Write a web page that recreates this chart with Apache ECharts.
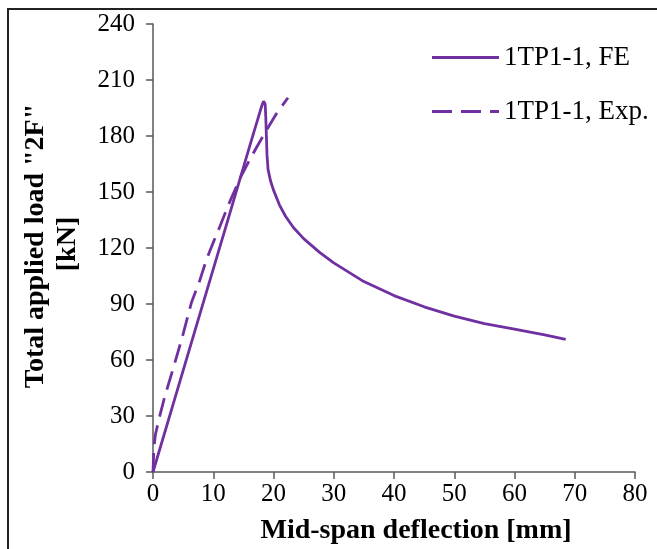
<!DOCTYPE html>
<html>
<head>
<meta charset="utf-8">
<script src="https://cdn.jsdelivr.net/npm/echarts@6/dist/echarts.min.js"></script>
<style>html,body{margin:0;padding:0;background:#fff;}#c{width:657px;height:549px;}</style>
</head>
<body>
<div id="c"></div>
<script>
// FE curve: [deflection mm, load kN]
const feX = [0, 4, 8, 12, 16, 17.8, 18.15, 18.35, 18.5, 18.62, 18.72, 18.82, 18.92, 19.1, 19.5, 20, 21, 22, 23.3, 25, 27.7, 30, 35, 40, 45, 50, 55, 60, 65, 68.5];
const feY = [0, 43.5, 87, 130.4, 174, 193.5, 197, 198.6, 198.8, 197, 190, 180, 170, 162, 156, 151, 143, 137, 131, 125, 117.5, 112, 102, 94.5, 88.5, 83.5, 79.5, 76.5, 73.5, 71];
// Experimental curve
const expX = [0, 0.15, 0.4, 1, 2, 3.4, 4.8, 6.4, 7.7, 8.9, 10, 11.1, 12.5, 14.4, 16, 17.2, 18.9, 20.5, 22.4];
const expY = [0, 13, 20, 28.5, 41, 56, 71.5, 91, 102, 114, 123, 131.5, 143, 157, 167, 174, 183.5, 192, 200.5];
const xTicks = [0, 10, 20, 30, 40, 50, 60, 70, 80];
const yTicks = [0, 30, 60, 90, 120, 150, 180, 210, 240];
const seriesNames = ['1TP1-1, FE', '1TP1-1, Exp.'];

const purple = '#7030A0';
const axisColor = '#595959';
const font = '"Liberation Serif", "Times New Roman", serif';

const chart = echarts.init(document.getElementById('c'), null, {renderer: 'canvas'});
chart.setOption({
  animation: false,
  backgroundColor: '#fff',
  grid: {left: 153, right: 22, top: 24, bottom: 77},
  xAxis: {
    type: 'value', min: xTicks[0], max: xTicks[xTicks.length - 1], interval: 10,
    axisLine: {show: true, lineStyle: {color: axisColor, width: 1.5}},
    axisTick: {show: true, inside: false, length: 7, lineStyle: {color: axisColor, width: 1.5}},
    splitLine: {show: false},
    axisLabel: {color: '#000', fontFamily: font, fontSize: 25, margin: 10}
  },
  yAxis: {
    type: 'value', min: yTicks[0], max: yTicks[yTicks.length - 1], interval: 30,
    axisLine: {show: true, lineStyle: {color: axisColor, width: 1.5}},
    axisTick: {show: true, inside: false, length: 7, lineStyle: {color: axisColor, width: 1.5}},
    splitLine: {show: false},
    axisLabel: {color: '#000', fontFamily: font, fontSize: 25, margin: 18}
  },
  legend: {
    show: true,
    orient: 'vertical', left: 432, top: 44, padding: 0,
    itemWidth: 67, itemHeight: 3, itemGap: 27,
    textStyle: {color: '#000', fontFamily: font, fontSize: 27},
    data: [
      {name: seriesNames[0], icon: 'path://M0,0h67v3h-67z', itemStyle: {color: purple}},
      {name: seriesNames[1], icon: 'path://M0,0h20v3h-20z M29,0h20v3h-20z M58,0h9v3h-9z', itemStyle: {color: purple}}
    ]
  },
  series: [
    {
      name: seriesNames[0], type: 'line', showSymbol: false, symbol: 'none',
      data: feX.map((x, i) => [x, feY[i]]),
      lineStyle: {color: purple, width: 2.8, type: 'solid'},
      itemStyle: {color: purple}
    },
    {
      name: seriesNames[1], type: 'line', showSymbol: false, symbol: 'none',
      data: expX.map((x, i) => [x, expY[i]]),
      lineStyle: {color: purple, width: 2.8, type: [19, 9]},
      itemStyle: {color: purple}
    }
  ],
  graphic: [
    {type: 'rect', shape: {x: 8, y: 9, width: 700, height: 600}, style: {fill: 'none', stroke: '#222', lineWidth: 2}, silent: true},
    {type: 'text', x: 416, y: 531, style: {text: 'Mid-span deflection [mm]', font: 'bold 28px ' + font, fill: '#000', textAlign: 'center', textVerticalAlign: 'middle'}},
    {type: 'text', x: 36, y: 246, rotation: Math.PI / 2, style: {text: 'Total applied load "2F"', font: 'bold 28px ' + font, fill: '#000', textAlign: 'center', textVerticalAlign: 'middle'}},
    {type: 'text', x: 68, y: 244, rotation: Math.PI / 2, style: {text: '[kN]', font: 'bold 28px ' + font, fill: '#000', textAlign: 'center', textVerticalAlign: 'middle'}}
  ]
});
</script>
</body>
</html>
